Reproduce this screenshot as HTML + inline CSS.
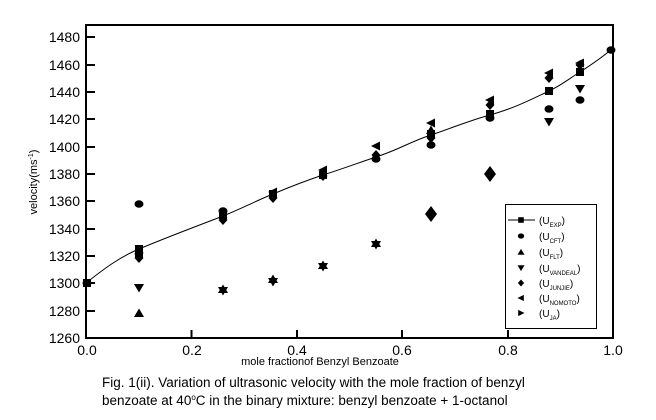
<!DOCTYPE html>
<html><head><meta charset="utf-8"><style>
html,body{margin:0;padding:0;background:#fff;}
svg{display:block;font-family:"Liberation Sans",Arial,sans-serif;}
</style></head><body>
<svg width="656" height="420" viewBox="0 0 656 420" xmlns="http://www.w3.org/2000/svg">
<defs>
<rect id="sq" x="-4" y="-4" width="8" height="8" fill="#000"/>
<ellipse id="ci" rx="4.5" ry="3.8" fill="#000"/>
<polygon id="up" points="0,-4.5 5,4 -5,4" fill="#000"/>
<polygon id="dn" points="0,4.5 5,-4 -5,-4" fill="#000"/>
<polygon id="di" points="0,-5 4.5,0 0,5 -4.5,0" fill="#000"/>
<polygon id="dib" points="0,-8 6,0 0,8 -6,0" fill="#000"/>
<polygon id="lf" points="-5,0 4,-4.5 4,4.5" fill="#000"/>
<polygon id="rt" points="5,0 -4,-4.5 -4,4.5" fill="#000"/>
</defs>
<rect x="86" y="25" width="527" height="313" fill="none" stroke="#000" stroke-width="2"/>
<g stroke="#000" stroke-width="2">
<line x1="86" y1="37" x2="95" y2="37"/><line x1="86" y1="65" x2="95" y2="65"/>
<line x1="86" y1="92" x2="95" y2="92"/><line x1="86" y1="119" x2="95" y2="119"/>
<line x1="86" y1="147" x2="95" y2="147"/><line x1="86" y1="174" x2="95" y2="174"/>
<line x1="86" y1="201" x2="95" y2="201"/><line x1="86" y1="229" x2="95" y2="229"/>
<line x1="86" y1="256" x2="95" y2="256"/><line x1="86" y1="283" x2="95" y2="283"/>
<line x1="86" y1="311" x2="95" y2="311"/>
<line x1="191.5" y1="338" x2="191.5" y2="330"/><line x1="297" y1="338" x2="297" y2="330"/>
<line x1="402" y1="338" x2="402" y2="330"/><line x1="508" y1="338" x2="508" y2="330"/>
</g>
<g font-size="14" text-anchor="end" fill="#000">
<text x="80" y="42">1480</text><text x="80" y="70">1460</text><text x="80" y="97">1440</text>
<text x="80" y="124">1420</text><text x="80" y="152">1400</text><text x="80" y="179">1380</text>
<text x="80" y="206">1360</text><text x="80" y="234">1340</text><text x="80" y="261">1320</text>
<text x="80" y="288">1300</text><text x="80" y="316">1280</text><text x="80" y="343">1260</text>
</g>
<g font-size="14" text-anchor="middle" fill="#000">
<text x="87" y="355">0.0</text><text x="192" y="355">0.2</text><text x="297" y="355">0.4</text>
<text x="402" y="355">0.6</text><text x="508" y="355">0.8</text><text x="613" y="355">1.0</text>
</g>
<text x="320" y="365" font-size="11" text-anchor="middle">mole fractionof Benzyl Benzoate</text>
<text transform="translate(37,182) rotate(-90)" font-size="11" text-anchor="middle">velocity(ms<tspan dy="-4" font-size="7">-1</tspan><tspan dy="4">)</tspan></text>
<path d="M86,283 C105,268 120,257 139,249 C170,236 200,225 223,216 C245,207 258,200 273,194 C292,186 305,181 323,175 C345,168 358,163 376,157 C398,150 412,141 431,135 C452,128 468,121 490,115 C515,108 532,99 549,91 C562,85 570,78 580,72 C594,63 604,56 613,48" fill="none" stroke="#000" stroke-width="1"/>
<g>
<use href="#ci" x="87" y="283"/><use href="#sq" x="87" y="283"/>
<use href="#sq" x="139" y="249"/><use href="#ci" x="139" y="204"/><use href="#up" x="139" y="313"/>
<use href="#dn" x="139" y="288"/><use href="#di" x="139" y="258"/><use href="#lf" x="139" y="254"/><use href="#rt" x="139" y="253"/>
<use href="#ci" x="223" y="211"/><use href="#sq" x="223" y="215"/><use href="#di" x="223" y="220"/>
<use href="#up" x="223" y="289"/><use href="#dn" x="223" y="291"/>
<use href="#lf" x="273" y="192"/><use href="#sq" x="273" y="194"/><use href="#di" x="273" y="198"/>
<use href="#up" x="273" y="279"/><use href="#dn" x="273" y="282"/>
<use href="#lf" x="323" y="170"/><use href="#di" x="323" y="176"/><use href="#sq" x="323" y="175"/>
<use href="#up" x="323" y="265"/><use href="#dn" x="323" y="267"/>
<use href="#lf" x="376" y="146"/><use href="#di" x="376" y="155"/><use href="#ci" x="376" y="159"/>
<use href="#up" x="376" y="243"/><use href="#dn" x="376" y="245"/>
<use href="#lf" x="431" y="123"/><use href="#up" x="431" y="130"/><use href="#sq" x="431" y="134"/>
<use href="#di" x="431" y="138"/><use href="#ci" x="431" y="145"/><use href="#dib" x="431" y="214"/>
<use href="#lf" x="490" y="100"/><use href="#di" x="490" y="105"/><use href="#sq" x="490" y="114"/>
<use href="#ci" x="490" y="118"/><use href="#dib" x="490" y="174"/>
<use href="#lf" x="549" y="73"/><use href="#di" x="549" y="78"/><use href="#sq" x="549" y="91"/>
<use href="#ci" x="549" y="109"/><use href="#dn" x="549" y="122"/>
<use href="#lf" x="580" y="63"/><use href="#di" x="580" y="65"/><use href="#sq" x="580" y="72"/>
<use href="#dn" x="580" y="89"/><use href="#ci" x="580" y="100"/>
<use href="#ci" x="611" y="50"/>
</g>
<rect x="505.5" y="204.5" width="91" height="124" fill="#fff" stroke="#000" stroke-width="1"/>
<line x1="508" y1="220" x2="535" y2="220" stroke="#000" stroke-width="1"/>
<g transform="translate(521,220) scale(0.7)"><use href="#sq"/></g>
<g transform="translate(521,236) scale(0.7)"><use href="#ci"/></g>
<g transform="translate(521,252) scale(0.7)"><use href="#up"/></g>
<g transform="translate(521,268) scale(0.7)"><use href="#dn"/></g>
<g transform="translate(521,283) scale(0.7)"><use href="#di"/></g>
<g transform="translate(521,298) scale(0.7)"><use href="#lf"/></g>
<g transform="translate(521,313) scale(0.7)"><use href="#rt"/></g>
<g font-size="10">
<text x="539" y="224">(U<tspan font-size="6" dy="3">EXP</tspan><tspan dy="-3">)</tspan></text>
<text x="539" y="240">(U<tspan font-size="6" dy="3">CFT</tspan><tspan dy="-3">)</tspan></text>
<text x="539" y="256">(U<tspan font-size="6" dy="3">FLT</tspan><tspan dy="-3">)</tspan></text>
<text x="539" y="272">(U<tspan font-size="6" dy="3">VANDEAL</tspan><tspan dy="-3">)</tspan></text>
<text x="539" y="287">(U<tspan font-size="6" dy="3">JUNJIE</tspan><tspan dy="-3">)</tspan></text>
<text x="539" y="302">(U<tspan font-size="6" dy="3">NOMOTO</tspan><tspan dy="-3">)</tspan></text>
<text x="539" y="317">(U<tspan font-size="6" dy="3">JA</tspan><tspan dy="-3">)</tspan></text>
</g>
<g font-size="13.5">
<text x="102" y="387">Fig. 1(ii). Variation of ultrasonic velocity with the mole fraction of benzyl</text>
<text x="102" y="405">benzoate at 40<tspan font-size="8" dy="-5">o</tspan><tspan dy="5">C in the binary mixture: benzyl benzoate + 1-octanol</tspan></text>
</g>
</svg>
</body></html>
